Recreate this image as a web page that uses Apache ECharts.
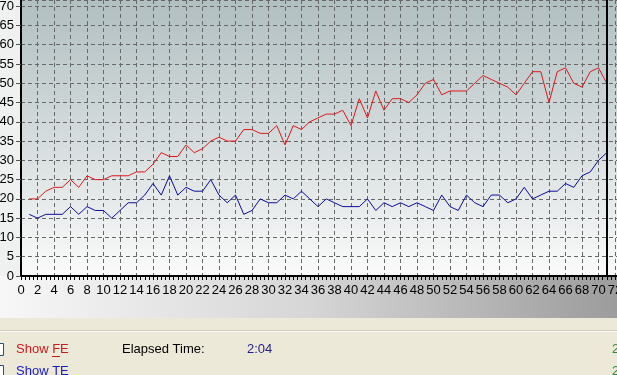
<!DOCTYPE html>
<html><head><meta charset="utf-8">
<script src="https://cdn.jsdelivr.net/npm/echarts@6/dist/echarts.min.js"></script>
<style>html,body{margin:0;padding:0;background:#ece9d8;overflow:hidden}#c{width:617px;height:375px}</style>
</head><body><div id="c"></div>
<script>
const seconds = [1,2,3,4,5,6,7,8,9,10,11,12,13,14,15,16,17,18,19,20,21,22,23,24,25,26,27,28,29,30,31,32,33,34,35,36,37,38,39,40,41,42,43,44,45,46,47,48,49,50,51,52,53,54,55,56,57,58,59,60,61,62,63,64,65,66,67,68,69,70,71];
const feValues = [20,20,22,23,23,25,23,26,25,25, 26,26,26,27,27,29,32,31,31,34, 32,33,35,36,35,35,38,38,37,37, 39,34,39,38,40,41,42,42,43,39, 46,41,48,43,46,46,45,47,50,51, 47,48,48,48,50,52,51,50,49,47, 50,53,53,45,53,54,50,49,53,54,50];
const teValues = [16,15,16,16,16,18,16,18,17,17, 15,17,19,19,21,24,21,26,21,23, 22,22,25,21,19,21,16,17,20,19, 19,21,20,22,20,18,20,19,18,18, 18,20,17,19,18,19,18,19,18,17, 21,18,17,21,19,18,21,21,19,20, 23,20,21,22,22,24,23,26,27,30,32];
const currentSecond = 71;
const labelFE = 'Show FE';
const labelTE = 'Show TE';
const labelElapsed = 'Elapsed Time:';
const elapsedValue = '2:04';

const FONT = '"Liberation Sans", Arial, sans-serif';
const chart = echarts.init(document.getElementById('c'), null, {renderer: 'canvas', width: 617, height: 375});
const dashed = {color: '#686868', type: [4, 3], width: 1};

chart.setOption({
  animation: false,
  backgroundColor: '#ece9d8',
  graphic: [
    {type: 'rect', z: -20, silent: true, shape: {x: 0, y: 0, width: 21, height: 276}, style: {fill: '#eff0f0'}},
    {type: 'rect', z: -20, silent: true, shape: {x: 21, y: 0, width: 596, height: 276},
      style: {fill: new echarts.graphic.LinearGradient(0, 0, 0, 1, [
        {offset: 0, color: '#b1bfc1'}, {offset: 0.5, color: '#d5dcdd'}, {offset: 1, color: '#fbfbfb'}])}},
    {type: 'rect', z: -20, silent: true, shape: {x: 0, y: 276, width: 617, height: 42},
      style: {fill: new echarts.graphic.LinearGradient(0, 0, 1, 0, [
        {offset: 0, color: '#f7f7f7'}, {offset: 0.5, color: '#d6d6d6'}, {offset: 1, color: '#9c9c9c'}])}},
    {type: 'line', z: -10, silent: true, shape: {x1: 0, y1: 330.5, x2: 617, y2: 330.5}, style: {stroke: '#d2cebd', lineWidth: 1}},
    {type: 'line', z: -10, silent: true, shape: {x1: 0, y1: 331.5, x2: 617, y2: 331.5}, style: {stroke: '#fbfaf5', lineWidth: 1}},
    {type: 'rect', z: -10, silent: true, shape: {x: -8.5, y: 343.5, width: 12, height: 12}, style: {fill: '#ffffff', stroke: '#1c5180', lineWidth: 1}},
    {type: 'rect', z: -10, silent: true, shape: {x: -8.5, y: 365.5, width: 12, height: 12}, style: {fill: '#ffffff', stroke: '#1c5180', lineWidth: 1}},
    {type: 'text', z: -5, silent: true, style: {text: labelFE, x: 16, y: 349, fill: '#cc1a1a', font: '13px ' + FONT, verticalAlign: 'middle'}},
    {type: 'line', z: -5, silent: true, shape: {x1: 52, y1: 356.5, x2: 60, y2: 356.5}, style: {stroke: '#cc1a1a', lineWidth: 1}},
    {type: 'text', z: -5, silent: true, style: {text: labelElapsed, x: 122, y: 349, fill: '#000000', font: '13px ' + FONT, verticalAlign: 'middle'}},
    {type: 'text', z: -5, silent: true, style: {text: elapsedValue, x: 247, y: 349, fill: '#1e1e8a', font: '13px ' + FONT, verticalAlign: 'middle'}},
    {type: 'text', z: -5, silent: true, style: {text: labelTE, x: 16, y: 371, fill: '#1a1ac8', font: '13px ' + FONT, verticalAlign: 'middle'}},
    {type: 'line', z: -5, silent: true, shape: {x1: 52, y1: 378.5, x2: 60, y2: 378.5}, style: {stroke: '#1a1ac8', lineWidth: 1}},
    {type: 'text', z: -5, silent: true, style: {text: '2', x: 612, y: 349, fill: '#2e8b2e', font: '13px ' + FONT, verticalAlign: 'middle'}},
    {type: 'text', z: -5, silent: true, style: {text: '2', x: 612, y: 371, fill: '#2e8b2e', font: '13px ' + FONT, verticalAlign: 'middle'}}
  ],
  grid: {left: 21, top: 0, width: 610.5, height: 276, containLabel: false, outerBoundsMode: 'none'},
  xAxis: {
    type: 'value', min: 0, max: 74, interval: 2,
    axisLine: {show: true, onZero: false, lineStyle: {color: '#000', width: 2}},
    axisTick: {show: true, inside: false, length: 4, lineStyle: {color: '#000'}},
    minorTick: {show: true, splitNumber: 4, length: 4, lineStyle: {color: '#000'}},
    axisLabel: {color: '#000', fontSize: 13, fontFamily: FONT, margin: 8, hideOverlap: false},
    splitLine: {show: true, lineStyle: dashed}
  },
  yAxis: {
    type: 'value', min: 0, max: 71.6, interval: 5,
    axisLine: {show: true, lineStyle: {color: '#000', width: 2}},
    axisTick: {show: true, length: 5, lineStyle: {color: '#555'}},
    axisLabel: {color: '#000', fontSize: 13, fontFamily: FONT, margin: 7, showMaxLabel: false},
    splitLine: {show: true, lineStyle: dashed}
  },
  series: [
    {name: 'FE', type: 'line', data: seconds.map((s, i) => [s, feValues[i]]), showSymbol: false, symbol: 'none',
      lineStyle: {color: '#e01818', width: 1}, itemStyle: {color: '#e01818'},
      markLine: {silent: true, symbol: ['none', 'none'], label: {show: false},
        lineStyle: {color: '#000', width: 2, type: 'solid'}, data: [{xAxis: currentSecond}]}},
    {name: 'TE', type: 'line', data: seconds.map((s, i) => [s, teValues[i]]), showSymbol: false, symbol: 'none',
      lineStyle: {color: '#0c0c9c', width: 1}, itemStyle: {color: '#0c0c9c'}}
  ]
});
</script></body></html>
